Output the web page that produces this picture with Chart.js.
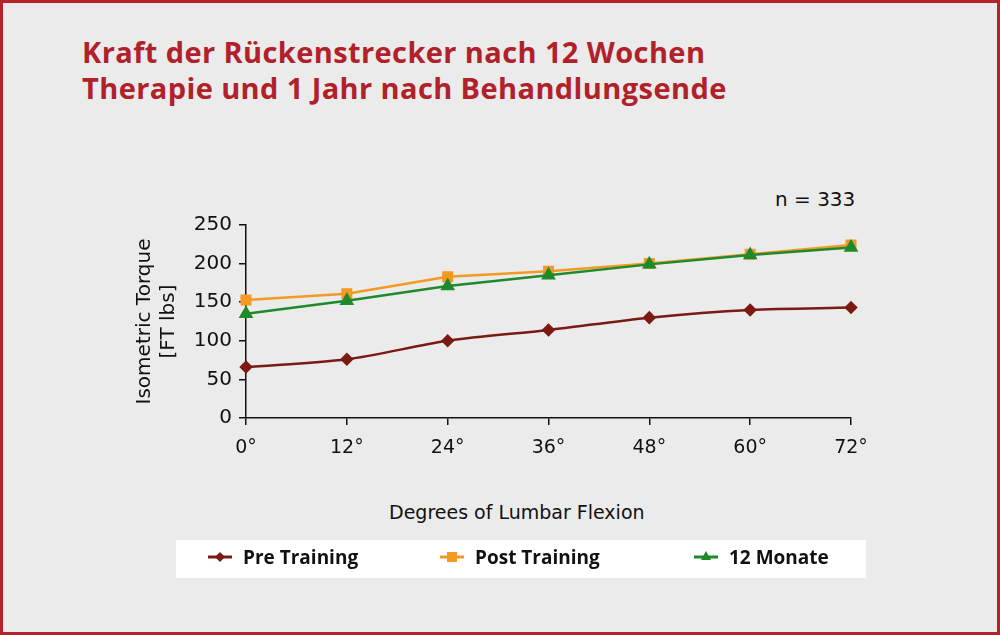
<!DOCTYPE html>
<html>
<head>
<meta charset="utf-8">
<script src="https://cdn.jsdelivr.net/npm/chart.js@4"></script>
<style>
  body { margin: 0; }
  #page { position: relative; width: 1000px; height: 635px; background: #ebebeb; border: 3px solid #b5222a; box-sizing: border-box; overflow: hidden; }
  #title { position: absolute; left: 79px; top: 31px; margin: 0; font: bold 29px "Open Sans", sans-serif; line-height: 36px; color: #b1212a; letter-spacing: 0.4px; }
  #n { position: absolute; left: 772px; top: 184px; font: 20px "DejaVu Sans", sans-serif; color: #111; }
  #xtitle { position: absolute; left: 386px; top: 498px; font: 19px "DejaVu Sans", sans-serif; color: #111; }
  #wrap { position: absolute; left: -3px; top: -3px; width: 1000px; height: 635px; }
  #legend { position: absolute; left: 173px; top: 537px; width: 690px; height: 38px; background: #fff; }
  .item { position: absolute; top: -2px; height: 38px; display: flex; align-items: center; font: bold 19px "Open Sans", sans-serif; color: #111; }
  .item svg { margin-right: 11px; }
</style>
</head>
<body>
<div id="page">
  <h1 id="title">Kraft der Rückenstrecker nach 12 Wochen<br>Therapie und 1 Jahr nach Behandlungsende</h1>
  <div id="n">n = 333</div>
  <div id="xtitle">Degrees of Lumbar Flexion</div>
  <div id="wrap"><canvas id="c"></canvas></div>
  <div id="legend"></div>
</div>
<script>
const categories = ['0°', '12°', '24°', '36°', '48°', '60°', '72°'];
const preTraining = [66, 76, 100, 114, 130, 140, 143];
const postTraining = [153, 161, 183, 190, 200, 212, 224];
const monate12 = [135, 152, 171, 185, 199, 211, 221];
const yTicks = [0, 50, 100, 150, 200, 250];

const series = [
  { label: 'Pre Training', data: preTraining, color: '#7b1a12', point: 'rectRot', radius: 5, tension: 0.3, order: 2, legendX: 32 },
  { label: 'Post Training', data: postTraining, color: '#f29a22', point: 'rect', radius: 6, tension: 0, order: 1, legendX: 264 },
  { label: '12 Monate', data: monate12, color: '#1d8a2c', point: 'triangle', radius: 6, tension: 0, order: 0, legendX: 518 }
];

new Chart(document.getElementById('c'), {
  type: 'line',
  data: {
    labels: categories,
    datasets: series.map(s => ({
      label: s.label,
      data: s.data,
      borderColor: s.color,
      backgroundColor: s.color,
      pointBackgroundColor: s.color,
      pointBorderColor: s.color,
      pointStyle: s.point,
      pointRadius: s.radius,
      borderWidth: 2.5,
      tension: s.tension,
      order: s.order
    }))
  },
  options: {
    responsive: true,
    maintainAspectRatio: false,
    animation: false,
    layout: { padding: { left: 126, right: 149, top: 225, bottom: 100 } },
    plugins: { legend: { display: false }, tooltip: { enabled: false } },
    scales: {
      x: {
        offset: false,
        grid: { drawOnChartArea: false, drawTicks: true, tickLength: 7, color: '#111', lineWidth: 1.5 },
        border: { color: '#111', width: 1.5 },
        ticks: { color: '#111', font: { family: 'DejaVu Sans', size: 19 }, padding: 12, maxRotation: 0 },
        afterFit: s => { s.height = 117; }
      },
      y: {
        min: 0, max: 250,
        afterBuildTicks: s => { s.ticks = yTicks.map(v => ({ value: v })); },
        grid: { drawOnChartArea: false, drawTicks: true, tickLength: 7, color: '#111', lineWidth: 1.5 },
        border: { color: '#111', width: 1.5 },
        ticks: { color: '#111', font: { family: 'DejaVu Sans', size: 20 }, padding: 7 },
        title: { display: true, text: ['Isometric Torque', '[FT lbs]'], color: '#111', font: { family: 'DejaVu Sans', size: 20 }, padding: { top: 7, bottom: 0 }, lineHeight: 0.95 },
        afterFit: s => { s.width = 120; }
      }
    }
  }
});

// legend built from the same series
const legend = document.getElementById('legend');
series.forEach(s => {
  const shape = s.point === 'rectRot'
    ? '<polygon points="12,3 17,8 12,13 7,8" fill="' + s.color + '"/>'
    : s.point === 'rect'
      ? '<rect x="7" y="3" width="10" height="10" fill="' + s.color + '"/>'
      : '<polygon points="12,2 17,11 7,11" fill="' + s.color + '"/>';
  const div = document.createElement('div');
  div.className = 'item';
  div.style.left = s.legendX + 'px';
  div.innerHTML = '<svg width="24" height="16"><line x1="0" y1="8" x2="24" y2="8" stroke="' + s.color + '" stroke-width="3"/>' + shape + '</svg>' + s.label;
  legend.appendChild(div);
});
</script>
</body>
</html>
